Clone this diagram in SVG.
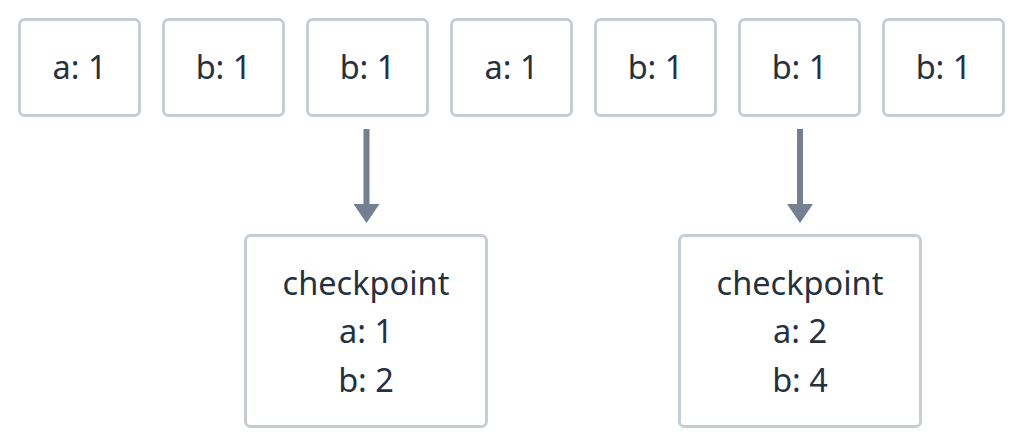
<svg xmlns="http://www.w3.org/2000/svg" width="1024" height="448" viewBox="0 0 1024 448">
<style>
.box{fill:#ffffff;stroke:#c6cdd5;stroke-width:3}
.t{font-family:"Noto Sans","Liberation Sans",sans-serif;font-size:32.5px;fill:#26313f;text-anchor:middle}
.conn{stroke:#748091;stroke-width:6;fill:none}
</style>
<defs>
<marker id="ah" markerUnits="userSpaceOnUse" markerWidth="20" markerHeight="26" refX="0" refY="13" orient="auto">
<path d="M0,0 L19,13 L0,26 Z" fill="#748091"/>
</marker>
</defs>
<rect width="1024" height="448" fill="#ffffff"/>
<g id="n1"><rect class="box" x="19.5" y="19.5" width="120" height="96" rx="5"/><text class="t" x="79.5" y="79">a: 1</text></g>
<g id="n2"><rect class="box" x="163.5" y="19.5" width="120" height="96" rx="5"/><text class="t" x="223.5" y="79">b: 1</text></g>
<g id="n3"><rect class="box" x="307.5" y="19.5" width="120" height="96" rx="5"/><text class="t" x="367.5" y="79">b: 1</text></g>
<g id="n4"><rect class="box" x="451.5" y="19.5" width="120" height="96" rx="5"/><text class="t" x="511.5" y="79">a: 1</text></g>
<g id="n5"><rect class="box" x="595.5" y="19.5" width="120" height="96" rx="5"/><text class="t" x="655.5" y="79">b: 1</text></g>
<g id="n6"><rect class="box" x="739.5" y="19.5" width="120" height="96" rx="5"/><text class="t" x="799.5" y="79">b: 1</text></g>
<g id="n7"><rect class="box" x="883.5" y="19.5" width="120" height="96" rx="5"/><text class="t" x="943.5" y="79">b: 1</text></g>
<g id="c1"><rect class="box" x="245.5" y="235.5" width="241" height="191" rx="5"/>
<text class="t" x="366" y="295">checkpoint</text><text class="t" x="366" y="343">a: 1</text><text class="t" x="366" y="392">b: 2</text></g>
<g id="c2"><rect class="box" x="679.5" y="235.5" width="241" height="191" rx="5"/>
<text class="t" x="800" y="295">checkpoint</text><text class="t" x="800" y="343">a: 2</text><text class="t" x="800" y="392">b: 4</text></g>
<g id="connectors">
<path class="conn" d="M366.5,129 L366.5,204" marker-end="url(#ah)"/>
<path class="conn" d="M800,129 L800,204" marker-end="url(#ah)"/>
</g>
</svg>
